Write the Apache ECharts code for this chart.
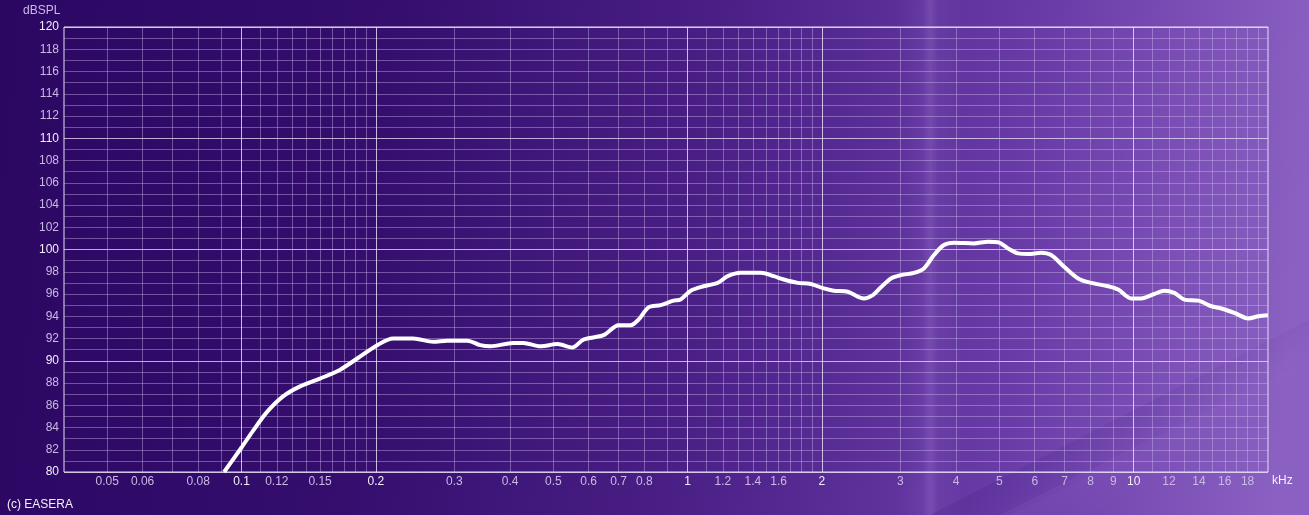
<!DOCTYPE html>
<html>
<head>
<meta charset="utf-8">
<script src="https://cdn.jsdelivr.net/npm/echarts@6/dist/echarts.min.js"></script>
<style>
html,body{margin:0;padding:0;background:#2a0760;}
#c{width:1309px;height:515px;}
</style>
</head>
<body>
<div id="c"></div>
<script>
// Frequency (kHz) and level (dB SPL)
const freqKHz = [0.0914,0.100,0.1061,0.1141,0.1239,0.1353,0.150,0.1664,0.1817,0.2014,0.2189,0.2427,0.2691,0.2892,0.3208,0.343,0.3613,0.4068,0.4284,0.4677,0.5108,0.5518,0.5842,0.6478,0.7001,0.7449,0.7762,0.8176,0.8698,0.9302,0.9645,1.016,1.086,1.168,1.230,1.315,1.458,1.560,1.643,1.766,1.888,2.020,2.127,2.287,2.484,2.602,2.712,2.856,3.007,3.217,3.387,3.566,3.754,3.955,4.385,4.715,4.965,5.228,5.504,5.798,6.200,6.529,6.982,7.505,8.028,8.765,9.231,9.872,10.39,11.12,11.71,12.33,12.99,13.96,14.93,15.72,16.81,18.07,19.03,20.0];
const levelDb = [80.0,82.2,83.7,85.4,86.8,87.7,88.4,89.2,90.2,91.4,92.0,92.0,91.7,91.8,91.8,91.4,91.3,91.6,91.6,91.3,91.5,91.2,91.9,92.3,93.2,93.2,93.7,94.8,95.0,95.4,95.5,96.3,96.7,97.0,97.6,97.9,97.9,97.6,97.3,97.0,96.9,96.5,96.3,96.2,95.6,95.9,96.6,97.4,97.7,97.9,98.3,99.5,100.4,100.6,100.55,100.7,100.65,100.1,99.65,99.6,99.7,99.5,98.45,97.4,97.0,96.7,96.4,95.6,95.6,96.0,96.3,96.1,95.5,95.4,94.9,94.7,94.3,93.8,94.0,94.1];

// Axis ticks / labels
const xLabelValues = [0.05,0.06,0.08,0.1,0.12,0.15,0.2,0.3,0.4,0.5,0.6,0.7,0.8,1,1.2,1.4,1.6,2,3,4,5,6,7,8,9,10,12,14,16,18];
const xMajorValues = [0.1,0.2,1,2,10];
const xMinorValues = [0.05,0.06,0.07,0.08,0.09,0.11,0.12,0.13,0.14,0.15,0.16,0.17,0.18,0.19,0.3,0.4,0.5,0.6,0.7,0.8,0.9,1.1,1.2,1.3,1.4,1.5,1.6,1.7,1.8,1.9,3,4,5,6,7,8,9,11,12,13,14,15,16,17,18,19];
const yMajorValues = [80,90,100,110,120];
const xMin = 0.04, xMax = 20, yMin = 80, yMax = 120;

const chart = echarts.init(document.getElementById('c'), null, {renderer:'canvas'});
const FONT = '"Liberation Sans", Arial, sans-serif';
const dimText = '#c9b9e4';
const brightText = '#f4effc';

const curve = freqKHz.map((f,i)=>[f, levelDb[i]]);
const minorLines = xMinorValues.map(v=>({xAxis:v}));
const majorLines = xMajorValues.map(v=>({xAxis:v}));

function band(c, a){
  return {type:'linear',x:0,y:0,x2:1,y2:0,colorStops:[
    {offset:0,color:'rgba('+c+',0)'},{offset:0.5,color:'rgba('+c+','+a+')'},{offset:1,color:'rgba('+c+',0)'}]};
}
function dband(c, a){
  return {type:'linear',x:0,y:0,x2:0.35,y2:1,colorStops:[
    {offset:0,color:'rgba('+c+',0)'},{offset:0.5,color:'rgba('+c+','+a+')'},{offset:1,color:'rgba('+c+',0)'}]};
}

chart.setOption({
  animation:false,
  backgroundColor:{
    type:'linear', x:0, y:0, x2:1, y2:0.25,
    colorStops:[
      {offset:0, color:'#2b0762'},
      {offset:0.3, color:'#350e6e'},
      {offset:0.55, color:'#4a1f86'},
      {offset:0.8, color:'#6a3ca8'},
      {offset:1, color:'#8a60c2'}
    ]
  },
  graphic:[
    {type:'rect', left:895, top:0, shape:{width:70,height:515}, silent:true, z:-10,
     style:{fill:band('190,160,240',0.10)}},
    {type:'rect', left:922, top:0, shape:{width:16,height:515}, silent:true, z:-10,
     style:{fill:band('200,170,250',0.12)}},
    {type:'polygon', silent:true, z:-10,
     shape:{points:[[1309,320],[1309,370],[1010,515],[930,515]]},
     style:{fill:dband('40,10,100',0.22)}},
    {type:'polygon', silent:true, z:-10,
     shape:{points:[[1309,360],[1309,410],[1090,515],[1000,515]]},
     style:{fill:dband('200,170,250',0.10)}},
    {type:'text', left:23, top:5, silent:true, style:{text:'dBSPL', fill:dimText, font:'12px '+FONT}},
    {type:'text', left:1272, top:475, silent:true, style:{text:'kHz', fill:brightText, font:'12px '+FONT}},
    {type:'text', left:7, top:499, silent:true, style:{text:'(c) EASERA', fill:brightText, font:'12px '+FONT}}
  ],
  grid:{left:64, right:41, top:27, bottom:43, show:true, borderColor:'#e6def2', borderWidth:1, backgroundColor:'transparent'},
  xAxis:{
    type:'log', logBase:10, min:xMin, max:xMax,
    axisLine:{show:false}, axisTick:{show:false}, splitLine:{show:false}, minorSplitLine:{show:false},
    axisLabel:{
      customValues:xLabelValues,
      margin:4,
      fontFamily:FONT, fontSize:12, color:dimText,
      formatter:(v)=>{
        const s = String(+v.toPrecision(6));
        return xMajorValues.some(m=>Math.abs(m-v)<1e-9) ? '{b|'+s+'}' : s;
      },
      rich:{b:{color:brightText, fontFamily:FONT, fontSize:12}}
    }
  },
  yAxis:{
    type:'value', min:yMin, max:yMax, interval:2,
    axisLine:{show:false}, axisTick:{show:false},
    axisLabel:{
      margin:5, fontFamily:FONT, fontSize:12, color:dimText,
      formatter:(v)=> yMajorValues.includes(v) ? '{b|'+v+'}' : String(v),
      rich:{b:{color:brightText, fontFamily:FONT, fontSize:12}}
    },
    splitLine:{show:true, lineStyle:{color:['rgba(235,225,250,0.75)','rgba(205,185,235,0.42)','rgba(205,185,235,0.42)','rgba(205,185,235,0.42)','rgba(205,185,235,0.42)'], width:1}},
    minorTick:{show:false, splitNumber:2},
    minorSplitLine:{show:true, lineStyle:{color:'rgba(205,185,235,0.42)', width:1}}
  },
  series:[
    {
      type:'line', data:[], silent:true,
      markLine:{silent:true, symbol:['none','none'], label:{show:false}, animation:false,
        lineStyle:{color:'rgba(205,185,235,0.42)', width:1, type:'solid'}, data:minorLines}
    },
    {
      type:'line', data:[], silent:true,
      markLine:{silent:true, symbol:['none','none'], label:{show:false}, animation:false,
        lineStyle:{color:'rgba(238,230,250,0.8)', width:1, type:'solid'}, data:majorLines}
    },
    {
      type:'line', data:curve, smooth:0.3, showSymbol:false, silent:true, z:10,
      lineStyle:{color:'#ffffff', width:4}
    }
  ]
});
</script>
</body>
</html>
